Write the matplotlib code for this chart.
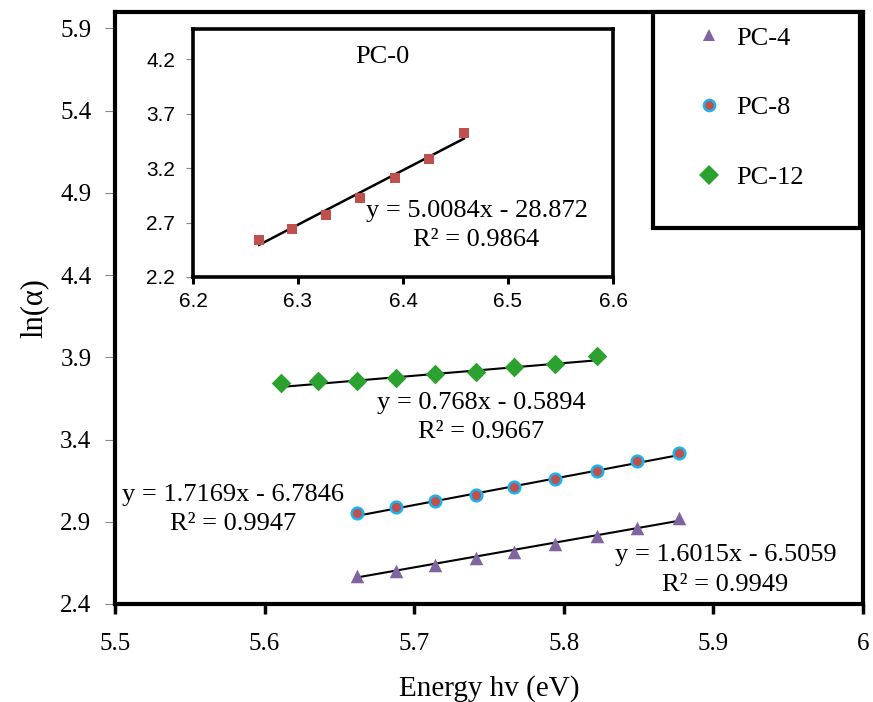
import numpy as np
import matplotlib.pyplot as plt
from matplotlib.patches import Rectangle
from matplotlib.lines import Line2D

plt.rcParams['font.family'] = ['Liberation Serif', 'DejaVu Serif']

# main plot data (energy in eV, ln(alpha))
energy_pc4 = [5.662, 5.688, 5.714, 5.741, 5.767, 5.794, 5.822, 5.849, 5.877]
ln_pc4 = [2.572, 2.602, 2.637, 2.679, 2.718, 2.765, 2.813, 2.864, 2.921]
energy_pc8 = [5.662, 5.688, 5.714, 5.741, 5.767, 5.794, 5.822, 5.849, 5.877]
ln_pc8 = [2.955, 2.987, 3.028, 3.064, 3.111, 3.159, 3.208, 3.267, 3.319]
energy_pc12 = [5.611, 5.636, 5.662, 5.688, 5.714, 5.741, 5.767, 5.794, 5.822]
ln_pc12 = [3.741, 3.757, 3.757, 3.775, 3.799, 3.811, 3.842, 3.862, 3.907]
# inset
energy_pc0 = [6.263, 6.294, 6.327, 6.359, 6.392, 6.425, 6.458]
ln_pc0 = [2.541, 2.642, 2.774, 2.925, 3.106, 3.285, 3.521]

# linear trendlines (slope, intercept, R2) as printed on the chart
fit_pc4 = (1.6015, -6.5059, 0.9949)
fit_pc8 = (1.7169, -6.7846, 0.9947)
fit_pc12 = (0.768, -0.5894, 0.9667)
fit_pc0 = (5.0084, -28.872, 0.9864)

purple = '#8064A2'
red = '#C0504D'
cyan = '#1AB3EC'
green = '#2BA12F'

W, H = 873, 702
fig = plt.figure(figsize=(W / 100, H / 100), dpi=100)

def box(l, t, r, b):
    return [l / W, (H - b) / H, (r - l) / W, (b - t) / H]

ax = fig.add_axes(box(115, 12, 863, 604))


def trend(a, xs, fit, lw=1.5):
    xx = np.array([min(xs), max(xs)])
    a.plot(xx, fit[0] * xx + fit[1], color='black', lw=lw, zorder=2)


def eq_text(fit):
    s = 'y = %gx - %g' % (fit[0], abs(fit[1]))
    return s + '\nR² = %g' % fit[2]


trend(ax, energy_pc4, fit_pc4)
trend(ax, energy_pc8, fit_pc8)
trend(ax, energy_pc12, fit_pc12)
ax.scatter(energy_pc4, ln_pc4, marker='^', s=95, color=purple, lw=0, zorder=3)
ax.scatter(energy_pc8, ln_pc8, marker='o', s=70, facecolor=red, edgecolor=cyan, lw=1.8, zorder=3)
ax.scatter(energy_pc12, ln_pc12, marker='D', s=100, color=green, lw=0, zorder=3)

ls = 1.42
ax.text(5.908, 2.607, eq_text(fit_pc4), ha='center', va='center', fontsize=19, linespacing=ls)
ax.text(5.579, 2.974, eq_text(fit_pc8), ha='center', va='center', fontsize=19, linespacing=ls)
ax.text(5.745, 3.533, eq_text(fit_pc12), ha='center', va='center', fontsize=19, linespacing=ls)

ax.set_xlim(5.5, 6.0)
ax.set_ylim(2.4, 6.0)
ax.set_xticks([5.5, 5.6, 5.7, 5.8, 5.9, 6.0])
ax.set_xticklabels(['5.5', '5.6', '5.7', '5.8', '5.9', '6'])
ax.set_yticks(np.arange(2.4, 6.0, 0.5))
ax.set_yticklabels(['2.4', '2.9', '3.4', '3.9', '4.4', '4.9', '5.4', '5.9'])
for sp in ax.spines.values():
    sp.set_linewidth(3)
ax.tick_params(axis='x', direction='out', length=7, width=2.5, labelsize=18, pad=14)
ax.tick_params(axis='y', direction='out', length=7, width=0.8, color='#888888', labelsize=18, pad=10)
ax.set_xlabel('Energy hv (eV)', fontsize=21, labelpad=14)
ax.set_ylabel('ln(\u03b1)', fontsize=22, labelpad=8)

# inset for PC-0
axin = fig.add_axes(box(193, 29, 613, 277))
trend(axin, energy_pc0, fit_pc0, lw=1.8)
axin.scatter(energy_pc0, ln_pc0, marker='s', s=55, color=red, lw=0, zorder=3)
axin.set_xlim(6.2, 6.6)
axin.set_ylim(2.2, 4.48)
axin.set_xticks([6.2, 6.3, 6.4, 6.5, 6.6])
axin.set_yticks([2.2, 2.7, 3.2, 3.7, 4.2])
for sp in axin.spines.values():
    sp.set_linewidth(2.6)
axin.tick_params(axis='x', direction='out', length=5, width=2.2, pad=6)
axin.tick_params(axis='y', direction='out', length=5, width=0.8, color='#888888', pad=8)
for lab in axin.get_xticklabels() + axin.get_yticklabels():
    lab.set_family(['Liberation Sans', 'DejaVu Sans'])
    lab.set_fontsize(15)
axin.text(6.38, 4.22, 'PC-0', ha='center', va='center', fontsize=19)
axin.text(6.47, 2.671, eq_text(fit_pc0), ha='center', va='center', fontsize=19, linespacing=ls)

# legend with thick frame
fig.add_artist(Rectangle((653 / W, (H - 228) / H), 207 / W, 216 / H, transform=fig.transFigure,
                         facecolor='white', edgecolor='black', lw=3, zorder=5))
handles = [
    Line2D([], [], ls='none', marker='^', ms=9, color=purple, mew=0),
    Line2D([], [], ls='none', marker='o', ms=8, markerfacecolor=red, markeredgecolor=cyan, mew=1.8),
    Line2D([], [], ls='none', marker='D', ms=10, color=green, mew=0),
]
leg = fig.legend(handles, ['PC-4', 'PC-8', 'PC-12'], loc='upper left',
                 bbox_to_anchor=(683 / W, (H - 13) / H), bbox_transform=fig.transFigure,
                 frameon=False, fontsize=19, borderpad=0, handlelength=1.0,
                 handletextpad=0.5, labelspacing=1.75)
leg.set_zorder(6)

fig.savefig('out.png', dpi=100)
